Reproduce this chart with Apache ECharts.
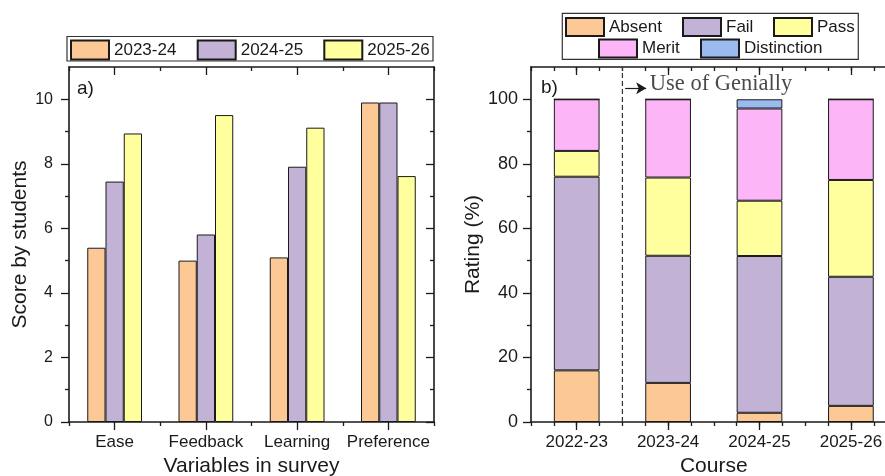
<!DOCTYPE html>
<html>
<head>
<meta charset="utf-8">
<script src="https://cdn.jsdelivr.net/npm/echarts@6/dist/echarts.min.js"></script>
<style>
  html, body { margin: 0; padding: 0; background: #fff; }
  #chart { width: 885px; height: 476px; }
</style>
</head>
<body>
<div id="chart"></div>
<script>
// Panel a) survey scores
const surveyVariables = ['Ease', 'Feedback', 'Learning', 'Preference'];
const surveyYears = ['2023-24', '2024-25', '2025-26'];
const score2023 = [5.40, 5.00, 5.10, 9.90];
const score2024 = [7.45, 5.81, 7.91, 9.90];
const score2025 = [8.94, 9.51, 9.12, 7.62];
const scoreTicks = [0, 2, 4, 6, 8, 10];
const scoreMinorTicks = [1, 3, 5, 7, 9];

// Panel b) grade distribution per course (%)
const courses = ['2022-23', '2023-24', '2024-25', '2025-26'];
const gradeNames = ['Absent', 'Fail', 'Pass', 'Merit', 'Distinction'];
const absentPct = [16, 12.12, 2.86, 5];
const failPct = [60, 39.39, 48.57, 40];
const passPct = [8, 24.24, 17.14, 30];
const meritPct = [16, 24.24, 28.57, 25];
const distinctionPct = [0, 0, 2.86, 0];
const ratingTicks = [0, 20, 40, 60, 80, 100];
const ratingMinorTicks = [10, 30, 50, 70, 90];

// Start of the Genially period, on the course-boundary scale (0..4)
const geniallyStart = 1;
const geniallyNote = 'Use of Genially';

const FONT = 'Liberation Sans, Arial, sans-serif';
const INK = '#1a1a1a';
const yearColors = ['#fcc896', '#c2b2d6', '#ffff9e'];
const gradeColors = ['#fcc896', '#c2b2d6', '#ffff9e', '#fcb5f6', '#9abaf0'];
const gradeData = [absentPct, failPct, passPct, meritPct, distinctionPct];

const chart = echarts.init(document.getElementById('chart'), null, { renderer: 'canvas' });

const lineStyle = { color: INK, width: 1.6 };
const tickStyle = { color: INK, width: 1.3 };

function catAxis(grid, cats, pos, withLabels, name) {
  const ax = {
    type: 'category', gridIndex: grid, data: cats, position: pos,
    axisLine: { show: true, onZero: false, lineStyle },
    axisTick: { show: true, alignWithLabel: true, interval: 0, length: 8, inside: pos === 'top', lineStyle: tickStyle },
    axisLabel: { show: withLabels, interval: 0, hideOverlap: false, fontFamily: FONT, fontSize: 17, color: INK, margin: 12 },
    splitLine: { show: false }
  };
  if (name) {
    ax.name = name; ax.nameLocation = 'middle'; ax.nameGap = 34;
    ax.nameTextStyle = { fontFamily: FONT, fontSize: 21, color: INK };
  }
  return ax;
}
function minorXAxis(grid, pos, step) {
  return {
    type: 'value', gridIndex: grid, position: pos, min: 0, max: 4, interval: step,
    axisLine: { show: false, onZero: false },
    axisTick: { show: true, length: 4, inside: pos === 'top', lineStyle: tickStyle },
    axisLabel: { show: false }, splitLine: { show: false }
  };
}
function valAxis(grid, pos, max, ticks, opts) {
  const ax = {
    type: 'value', gridIndex: grid, position: pos, min: 0, max: max,
    axisLine: { show: opts.line, onZero: false, lineStyle },
    axisTick: { show: true, customValues: ticks, length: opts.len, inside: pos === 'right', lineStyle: tickStyle },
    axisLabel: opts.labels
      ? { show: true, customValues: ticks, fontFamily: FONT, fontSize: opts.fontSize, color: INK, margin: opts.margin }
      : { show: false },
    splitLine: { show: false }
  };
  if (opts.name) {
    ax.name = opts.name; ax.nameLocation = 'middle'; ax.nameGap = opts.nameGap;
    ax.nameTextStyle = { fontFamily: FONT, fontSize: 21, color: INK };
  }
  return ax;
}

function legendItem(name, left, top, h) {
  return {
    data: [name], left: left, top: top, padding: 0, itemGap: 0,
    icon: 'rect', itemWidth: 38, itemHeight: h, selectedMode: false,
    textStyle: { fontFamily: FONT, fontSize: 17, color: INK, lineHeight: h }
  };
}

const series = [];
surveyYears.forEach((y, i) => {
  series.push({
    name: y, type: 'bar', xAxisIndex: 0, yAxisIndex: 0,
    data: [score2023, score2024, score2025][i],
    barGap: '0%', barCategoryGap: '40%',
    itemStyle: { color: yearColors[i], borderColor: INK, borderWidth: 1 }
  });
});
gradeNames.forEach((g, i) => {
  series.push({
    name: g, type: 'bar', stack: 'grades', xAxisIndex: 4, yAxisIndex: 4,
    data: gradeData[i], barWidth: '50%',
    itemStyle: { color: gradeColors[i], borderColor: INK, borderWidth: 1 }
  });
});
// Dashed divider at the start of the Genially period, with arrow
series.push({
  type: 'line', xAxisIndex: 6, yAxisIndex: 4, silent: true, symbol: 'none',
  data: [[geniallyStart, 0], [geniallyStart, 110]],
  lineStyle: { color: '#333', width: 1.2, type: [5, 3] },
  markLine: {
    silent: true, symbol: ['none', 'arrow'], symbolSize: [9, 10],
    label: { show: false },
    lineStyle: { color: INK, width: 1.2, type: 'solid' },
    data: [[{ coord: [geniallyStart + 0.03, 103.4] }, { coord: [geniallyStart + 0.26, 103.4] }]]
  }
});
series.push({
  type: 'scatter', xAxisIndex: 6, yAxisIndex: 4, silent: true,
  symbolSize: 0, data: [[geniallyStart + 0.3, 104.6]],
  label: {
    show: true, position: 'right', distance: 0, formatter: geniallyNote,
    fontFamily: 'Liberation Serif, Times New Roman, serif', fontSize: 22.5, color: INK
  }
});

const option = {
  animation: false,
  backgroundColor: '#fff',
  title: [
    { text: 'a)', left: 77, top: 79, padding: 0, textStyle: { fontFamily: FONT, fontSize: 19, fontWeight: 'normal', color: INK } },
    { text: 'b)', left: 541, top: 78, padding: 0, textStyle: { fontFamily: FONT, fontSize: 19, fontWeight: 'normal', color: INK } }
  ],
  grid: [
    { left: 69, top: 67, width: 365, height: 355, outerBoundsMode: 'none', containLabel: false },
    { left: 531, top: 67, width: 365.6, height: 355, outerBoundsMode: 'none', containLabel: false }
  ],
  legend: [
    legendItem('2023-24', 70, 39.5, 19),
    legendItem('2024-25', 196.7, 39.5, 19),
    legendItem('2025-26', 323.3, 39.5, 19),
    legendItem('Absent', 565, 17, 18),
    legendItem('Fail', 682, 17, 18),
    legendItem('Pass', 773, 17, 18),
    legendItem('Merit', 598, 38.5, 18),
    legendItem('Distinction', 700, 38.5, 18)
  ],
  graphic: [
    { type: 'rect', shape: { x: 67, y: 36.5, width: 366, height: 24.5 }, style: { fill: null, stroke: '#333', lineWidth: 1.2 }, silent: true },
    { type: 'rect', shape: { x: 562.3, y: 13.3, width: 296, height: 46 }, style: { fill: null, stroke: '#333', lineWidth: 1.2 }, silent: true }
  ],
  xAxis: [
    catAxis(0, surveyVariables, 'bottom', true, 'Variables in survey'),
    catAxis(0, surveyVariables, 'top', false),
    minorXAxis(0, 'bottom', 1),
    minorXAxis(0, 'top', 1),
    catAxis(1, courses, 'bottom', true, 'Course'),
    catAxis(1, courses, 'top', false),
    minorXAxis(1, 'bottom', 0.25),
    minorXAxis(1, 'top', 0.25)
  ],
  yAxis: [
    valAxis(0, 'left', 11, scoreTicks, { line: true, len: 8, labels: true, fontSize: 16, margin: 16, name: 'Score by students', nameGap: 38 }),
    valAxis(0, 'left', 11, scoreMinorTicks, { line: false, len: 4 }),
    valAxis(0, 'right', 11, scoreTicks, { line: true, len: 8 }),
    valAxis(0, 'right', 11, scoreMinorTicks, { line: false, len: 4 }),
    valAxis(1, 'left', 110, ratingTicks, { line: true, len: 8, labels: true, fontSize: 18, margin: 13, name: 'Rating (%)', nameGap: 45 }),
    valAxis(1, 'left', 110, ratingMinorTicks, { line: false, len: 4 })
  ],
  series: series
};
chart.setOption(option);
</script>
</body>
</html>
